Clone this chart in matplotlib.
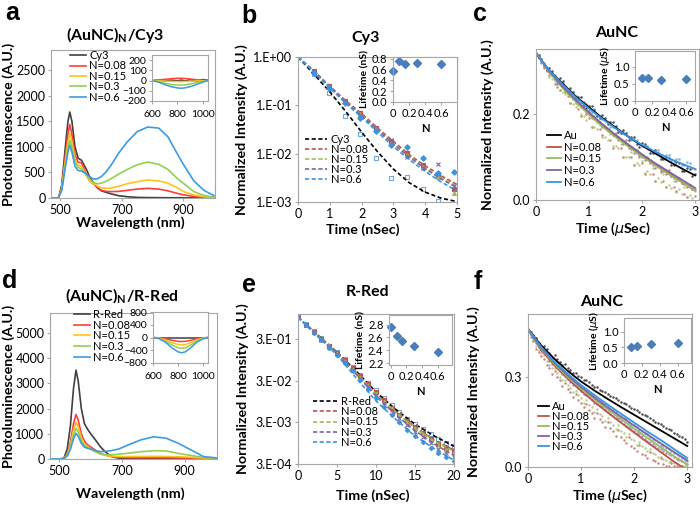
import numpy as np
import matplotlib
matplotlib.use("Agg")
import matplotlib.pyplot as plt
from matplotlib.ticker import FixedLocator, FormatStrFormatter, NullLocator

plt.rcParams["font.family"] = ["Lato", "DejaVu Sans"]
plt.rcParams["mathtext.fontset"] = "dejavusans"
plt.rcParams["mathtext.rm"] = "Lato"
plt.rcParams["mathtext.it"] = "Lato:italic"
plt.rcParams["mathtext.bf"] = "Lato:bold"

W, H = 700, 507

# ---------------- data ----------------
series_n = ["N=0.08", "N=0.15", "N=0.3", "N=0.6"]

# (a) emission spectra, (AuNC)N / Cy3
wl_a = [470, 494, 505, 515, 525, 531, 538, 548, 558, 569, 578, 585, 595, 606, 614,
        622, 634, 650, 666, 690, 718, 750, 784, 820, 850, 880, 902, 935, 967, 1000]
pl_a_cy3 = [0, 0, 250, 900, 1500, 1685, 1500, 1000, 780, 740, 640, 560, 420, 320, 250,
            190, 140, 110, 80, 45, 25, 12, 8, 6, 5, 5, 3, 2, 1, 0]
pl_a_008 = [0, 0, 200, 750, 1250, 1440, 1250, 850, 700, 690, 560, 450, 340, 280, 255,
            200, 150, 130, 125, 130, 150, 175, 189, 175, 140, 91, 60, 30, 10, 3]
pl_a_015 = [0, 0, 180, 660, 1100, 1263, 1100, 760, 640, 620, 520, 430, 340, 280, 262,
            230, 200, 190, 195, 230, 280, 320, 352, 335, 290, 200, 123, 60, 25, 8]
pl_a_03 = [0, 0, 160, 600, 980, 1133, 990, 700, 600, 570, 500, 470, 380, 310, 290,
           280, 290, 330, 380, 470, 560, 650, 705, 660, 560, 385, 280, 123, 50, 15]
pl_a_06 = [0, 0, 150, 540, 900, 1035, 900, 620, 540, 530, 500, 470, 420, 380, 370,
           380, 420, 520, 650, 880, 1100, 1300, 1390, 1370, 1200, 870, 640, 330, 150, 45]

# insets of (a) and (d): difference spectra
wl_in = [600, 650, 700, 750, 800, 830, 860, 900, 950, 1000, 1040]
diff_a_ref = [0, 2, -3, 4, -2, 5, -4, 8, -6, 10, 4]
diff_a_008 = [0, 5, 12, 18, 22, 22, 20, 15, 8, 3, 0]
diff_a_015 = [0, -2, -5, -8, -10, -10, -9, -7, -4, -2, 0]
diff_a_03 = [0, -10, -25, -38, -45, -45, -42, -33, -20, -8, 0]
diff_a_06 = [0, -15, -40, -60, -72, -75, -72, -60, -38, -15, 0]

# (d) emission spectra, (AuNC)N / R-Red
wl_d = [470, 505, 515, 525, 535, 545, 553, 560, 570, 580, 590, 600, 615, 630, 645,
        665, 690, 720, 760, 800, 840, 880, 920, 960, 1005]
pl_d_rred = [0, 0, 50, 400, 1300, 2800, 3530, 3100, 2000, 1400, 1180, 1000, 760, 500, 300,
             100, 30, 10, 5, 5, 5, 3, 2, 1, 0]
pl_d_008 = [0, 0, 30, 200, 650, 1400, 1770, 1550, 1000, 700, 560, 480, 350, 230, 160,
            100, 70, 55, 50, 50, 50, 45, 35, 20, 10]
pl_d_015 = [0, 0, 25, 170, 540, 1150, 1450, 1280, 830, 600, 480, 410, 300, 200, 150,
            110, 95, 95, 100, 105, 100, 90, 70, 40, 20]
pl_d_03 = [0, 0, 20, 140, 450, 950, 1220, 1080, 720, 520, 440, 380, 290, 200, 165,
           170, 190, 230, 290, 330, 320, 220, 140, 60, 30]
pl_d_06 = [0, 0, 18, 120, 380, 800, 1020, 900, 620, 470, 430, 400, 330, 295, 300,
           330, 400, 560, 760, 880, 830, 620, 360, 95, 40]
diff_d_ref = [0, 0, 0, 0, 0, 0, 0, 0, 0, 0, 0]
diff_d_008 = [0, -10, -40, -85, -120, -128, -120, -90, -40, -10, 0]
diff_d_015 = [0, -20, -75, -160, -220, -235, -220, -165, -75, -20, 0]
diff_d_03 = [0, -30, -110, -230, -320, -340, -320, -240, -110, -30, 0]
diff_d_06 = [0, -40, -150, -320, -450, -480, -450, -330, -150, -40, 0]

# (b) Cy3 decay, data points and fits
t_b = [0, 0.49, 0.98, 1.47, 1.96, 2.45, 2.94, 3.43, 3.92, 4.41, 4.9]
pts_b_cy3 = [1.0, 0.45, 0.18, 0.06, 0.025, 0.008, 0.0032, 0.0033, 0.0019, 0.00105, np.nan]
pts_b_008 = [1.0, 0.52, 0.25, 0.125, 0.068, 0.034, 0.018, 0.0105, 0.0058, 0.0035, 0.0019]
pts_b_015 = [1.0, 0.50, 0.24, 0.12, 0.065, 0.032, 0.017, 0.0095, 0.0052, 0.0033, 0.0015]
pts_b_03 = [1.0, 0.50, 0.24, 0.118, 0.063, 0.031, 0.019, 0.0085, 0.005, 0.006, 0.0021]
pts_b_06 = [1.0, 0.47, 0.23, 0.11, 0.056, 0.029, 0.015, 0.014, 0.008, 0.004, 0.0042]
tfit_b = [0, 0.5, 1, 1.5, 2, 2.5, 3, 3.5, 4, 4.5, 5]
fit_b_cy3 = [1.0, 0.44, 0.19, 0.075, 0.028, 0.011, 0.0048, 0.0025, 0.0016, 0.0012, 0.00102]
fit_b_008 = [1.0, 0.52, 0.25, 0.125, 0.068, 0.034, 0.018, 0.0095, 0.0056, 0.0035, 0.0023]
fit_b_015 = [1.0, 0.50, 0.245, 0.12, 0.064, 0.032, 0.016, 0.0088, 0.005, 0.0032, 0.0021]
fit_b_03 = [1.0, 0.50, 0.24, 0.118, 0.062, 0.031, 0.0158, 0.0085, 0.0049, 0.003, 0.002]
fit_b_06 = [1.0, 0.48, 0.23, 0.11, 0.057, 0.028, 0.014, 0.0075, 0.0043, 0.0026, 0.0017]
n_b = [0, 0.08, 0.15, 0.3, 0.6]
life_b = [0.58, 0.75, 0.70, 0.72, 0.71]

# (e) R-Red decay
t_e = [0, 1, 2, 3, 4, 5, 6, 7, 8, 9, 10, 11, 12, 13, 14, 15, 16, 17, 18, 19, 20]
pts_e_rred = [1.0, 0.68, 0.46, 0.31, 0.21, 0.145, 0.097, 0.064, 0.042, 0.027, 0.0175,
              0.0115, 0.0078, 0.0053, 0.0037, 0.0027, 0.0021, 0.0016, 0.0012, 0.00095, 0.0008]
pts_e_008 = [1.0, 0.67, 0.45, 0.30, 0.20, 0.138, 0.092, 0.060, 0.039, 0.025, 0.016,
             0.0102, 0.0068, 0.0046, 0.0032, 0.0023, 0.0017, 0.0012, 0.0009, 0.00072, 0.0006]
pts_e_015 = [1.0, 0.67, 0.45, 0.30, 0.20, 0.136, 0.090, 0.058, 0.037, 0.024, 0.0152,
             0.0098, 0.0065, 0.0044, 0.0030, 0.0022, 0.0016, 0.00115, 0.00088, 0.0007, 0.00058]
pts_e_03 = [1.0, 0.66, 0.44, 0.29, 0.195, 0.130, 0.085, 0.055, 0.035, 0.022, 0.0138,
            0.0088, 0.0058, 0.0038, 0.0026, 0.0018, 0.0013, 0.00095, 0.0007, 0.00055, 0.00045]
pts_e_06 = [1.0, 0.66, 0.43, 0.28, 0.185, 0.122, 0.079, 0.050, 0.031, 0.019, 0.0115,
            0.0072, 0.0046, 0.0030, 0.0020, 0.0014, 0.0010, 0.00072, 0.00055, 0.00043, 0.00035]
tfit_e = [0, 2.5, 5, 7.5, 10, 12.5, 15, 17.5, 20]
fit_e_rred = [1.0, 0.38, 0.145, 0.050, 0.016, 0.0062, 0.0027, 0.0014, 0.0008]
fit_e_008 = [1.0, 0.37, 0.140, 0.046, 0.0145, 0.0055, 0.0023, 0.0011, 0.00065]
fit_e_015 = [1.0, 0.37, 0.138, 0.045, 0.014, 0.0052, 0.0022, 0.00105, 0.0006]
fit_e_03 = [1.0, 0.36, 0.133, 0.042, 0.0128, 0.0046, 0.0019, 0.0009, 0.00048]
fit_e_06 = [1.0, 0.35, 0.125, 0.034, 0.0098, 0.0036, 0.0014, 0.0007, 0.00037]
n_e = [0, 0.08, 0.15, 0.3, 0.6]
life_e = [2.77, 2.62, 2.54, 2.46, 2.37]

# (c) AuNC decay with Cy3: raw counts (two interleaved time grids) and fits
t_sc = [0.0, 0.1, 0.2, 0.3, 0.4, 0.5, 0.6, 0.7, 0.8, 0.9, 1.0, 1.1, 1.2, 1.3, 1.4, 1.5,
        1.6, 1.7, 1.8, 1.9, 2.0, 2.1, 2.2, 2.3, 2.4, 2.5, 2.6, 2.7, 2.8, 2.9, 3.0]
t_sc2 = [0.05, 0.15, 0.25, 0.35, 0.45, 0.55, 0.65, 0.75, 0.85, 0.95, 1.05, 1.15, 1.25,
         1.35, 1.45, 1.55, 1.65, 1.75, 1.85, 1.95, 2.05, 2.15, 2.25, 2.35, 2.45, 2.55,
         2.65, 2.75, 2.85, 2.95]
sc_c_au = [0.338, 0.326, 0.301, 0.299, 0.276, 0.275, 0.252, 0.251, 0.238, 0.221, 0.219,
           0.209, 0.191, 0.190, 0.181, 0.172, 0.155, 0.156, 0.146, 0.130, 0.131, 0.122,
           0.108, 0.110, 0.094, 0.097, 0.080, 0.085, 0.068, 0.072, 0.060]
sc_c_008 = [0.335, 0.325, 0.298, 0.290, 0.262, 0.268, 0.240, 0.236, 0.210, 0.220, 0.190,
            0.195, 0.165, 0.170, 0.140, 0.155, 0.120, 0.140, 0.100, 0.115, 0.085, 0.100,
            0.060, 0.080, 0.045, 0.070, 0.030, 0.050, 0.015, 0.035, 0.010]
sc_c_015 = [0.336, 0.318, 0.305, 0.280, 0.272, 0.250, 0.245, 0.222, 0.220, 0.195, 0.198,
            0.170, 0.175, 0.145, 0.152, 0.125, 0.130, 0.100, 0.112, 0.085, 0.090, 0.068,
            0.075, 0.050, 0.060, 0.035, 0.045, 0.025, 0.030, 0.012, 0.020]
sc_c_03 = [0.340, 0.320, 0.302, 0.290, 0.270, 0.262, 0.248, 0.235, 0.225, 0.210, 0.203,
           0.188, 0.180, 0.168, 0.158, 0.148, 0.138, 0.130, 0.118, 0.110, 0.100, 0.094,
           0.082, 0.078, 0.068, 0.062, 0.052, 0.048, 0.038, 0.035, 0.025]
sc_c_06 = [0.340, 0.326, 0.305, 0.297, 0.277, 0.272, 0.252, 0.250, 0.232, 0.228, 0.208,
           0.210, 0.190, 0.190, 0.170, 0.172, 0.155, 0.155, 0.138, 0.140, 0.125, 0.126,
           0.110, 0.115, 0.097, 0.104, 0.090, 0.095, 0.080, 0.085, 0.072]
sc2_c_au = [0.335, 0.310, 0.306, 0.280, 0.283, 0.258, 0.260, 0.236, 0.238, 0.214, 0.218,
            0.195, 0.198, 0.176, 0.180, 0.157, 0.162, 0.140, 0.145, 0.124, 0.130, 0.108,
            0.116, 0.095, 0.100, 0.082, 0.088, 0.068, 0.074, 0.055]
sc2_c_008 = [0.328, 0.305, 0.290, 0.270, 0.255, 0.250, 0.225, 0.225, 0.195, 0.200, 0.170,
             0.180, 0.150, 0.160, 0.120, 0.140, 0.100, 0.120, 0.080, 0.100, 0.060, 0.085,
             0.045, 0.065, 0.030, 0.055, 0.020, 0.040, 0.008, 0.025]
sc2_c_015 = [0.330, 0.310, 0.285, 0.275, 0.255, 0.245, 0.225, 0.215, 0.200, 0.185, 0.170,
             0.165, 0.145, 0.140, 0.125, 0.120, 0.100, 0.100, 0.080, 0.080, 0.062, 0.060,
             0.045, 0.042, 0.030, 0.028, 0.018, 0.015, 0.008, 0.005]
sc2_c_03 = [0.332, 0.312, 0.297, 0.282, 0.268, 0.255, 0.240, 0.230, 0.215, 0.205, 0.190,
            0.185, 0.170, 0.165, 0.150, 0.145, 0.130, 0.125, 0.110, 0.105, 0.092, 0.088,
            0.075, 0.070, 0.060, 0.055, 0.045, 0.040, 0.030, 0.025]
sc2_c_06 = [0.333, 0.318, 0.300, 0.290, 0.272, 0.265, 0.245, 0.242, 0.225, 0.222, 0.205,
            0.200, 0.188, 0.180, 0.170, 0.162, 0.155, 0.145, 0.140, 0.130, 0.128, 0.118,
            0.115, 0.105, 0.104, 0.092, 0.095, 0.082, 0.088, 0.075]
t_fit_c = [0, 0.25, 0.5, 0.75, 1.0, 1.25, 1.5, 1.75, 2.0, 2.25, 2.5, 2.75, 3.0]
fit_c_au = [0.34, 0.30, 0.27, 0.24, 0.215, 0.19, 0.168, 0.146, 0.126, 0.108, 0.09, 0.073, 0.057]
fit_c_008 = [0.34, 0.298, 0.262, 0.23, 0.20, 0.173, 0.148, 0.125, 0.103, 0.082, 0.062, 0.042, 0.022]
fit_c_015 = [0.34, 0.297, 0.26, 0.228, 0.198, 0.171, 0.146, 0.123, 0.101, 0.08, 0.06, 0.041, 0.022]
fit_c_03 = [0.34, 0.299, 0.263, 0.232, 0.203, 0.176, 0.151, 0.128, 0.106, 0.085, 0.066, 0.047, 0.028]
fit_c_06 = [0.34, 0.30, 0.268, 0.238, 0.212, 0.188, 0.166, 0.146, 0.128, 0.112, 0.097, 0.084, 0.072]
n_c = [0.08, 0.15, 0.3, 0.6]
life_c = [0.66, 0.66, 0.62, 0.65]

# (f) AuNC decay with R-Red
sc_f_au = [0.455, 0.440, 0.415, 0.405, 0.380, 0.375, 0.350, 0.345, 0.325, 0.315, 0.300,
           0.290, 0.275, 0.268, 0.255, 0.245, 0.235, 0.225, 0.215, 0.205, 0.195, 0.185,
           0.172, 0.165, 0.150, 0.145, 0.130, 0.122, 0.110, 0.100, 0.085]
sc_f_008 = [0.450, 0.420, 0.385, 0.360, 0.330, 0.320, 0.290, 0.280, 0.250, 0.245, 0.215,
            0.210, 0.180, 0.180, 0.150, 0.150, 0.120, 0.125, 0.090, 0.100, 0.065, 0.075,
            0.040, 0.050, 0.020, 0.030, 0.005, 0.015, 0.002, 0.005, 0.001]
sc_f_015 = [0.450, 0.425, 0.390, 0.375, 0.340, 0.330, 0.300, 0.290, 0.265, 0.255, 0.230,
            0.225, 0.200, 0.195, 0.170, 0.165, 0.140, 0.140, 0.115, 0.110, 0.090, 0.085,
            0.065, 0.060, 0.045, 0.035, 0.025, 0.020, 0.010, 0.005, 0.001]
sc_f_03 = [0.455, 0.430, 0.400, 0.385, 0.355, 0.345, 0.320, 0.305, 0.285, 0.270, 0.255,
           0.240, 0.225, 0.210, 0.200, 0.185, 0.170, 0.160, 0.145, 0.135, 0.120, 0.110,
           0.095, 0.085, 0.070, 0.060, 0.048, 0.040, 0.028, 0.020, 0.010]
sc_f_06 = [0.460, 0.435, 0.405, 0.390, 0.360, 0.350, 0.325, 0.315, 0.295, 0.280, 0.265,
           0.252, 0.240, 0.225, 0.215, 0.200, 0.190, 0.175, 0.165, 0.150, 0.140, 0.125,
           0.115, 0.100, 0.090, 0.075, 0.065, 0.052, 0.042, 0.030, 0.020]
sc2_f_au = [0.450, 0.430, 0.400, 0.395, 0.365, 0.360, 0.340, 0.330, 0.315, 0.305, 0.290,
            0.282, 0.268, 0.258, 0.250, 0.238, 0.230, 0.218, 0.210, 0.198, 0.190, 0.178,
            0.170, 0.158, 0.148, 0.138, 0.128, 0.115, 0.105, 0.092]
sc2_f_008 = [0.435, 0.395, 0.370, 0.340, 0.310, 0.300, 0.270, 0.260, 0.235, 0.225, 0.200,
             0.190, 0.165, 0.160, 0.135, 0.130, 0.105, 0.100, 0.080, 0.070, 0.055, 0.045,
             0.030, 0.025, 0.012, 0.010, 0.003, 0.002, 0.001, 0.001]
sc2_f_015 = [0.440, 0.405, 0.380, 0.355, 0.330, 0.315, 0.290, 0.275, 0.250, 0.240, 0.215,
             0.208, 0.185, 0.178, 0.155, 0.150, 0.128, 0.120, 0.100, 0.095, 0.075, 0.070,
             0.055, 0.048, 0.035, 0.028, 0.018, 0.012, 0.005, 0.002]
sc2_f_03 = [0.445, 0.415, 0.390, 0.370, 0.345, 0.330, 0.310, 0.295, 0.275, 0.262, 0.245,
            0.232, 0.215, 0.205, 0.190, 0.178, 0.162, 0.152, 0.138, 0.128, 0.112, 0.102,
            0.088, 0.078, 0.065, 0.055, 0.044, 0.035, 0.025, 0.015]
sc2_f_06 = [0.448, 0.420, 0.395, 0.375, 0.352, 0.338, 0.318, 0.305, 0.288, 0.272, 0.260,
            0.245, 0.235, 0.220, 0.210, 0.195, 0.185, 0.170, 0.160, 0.145, 0.135, 0.120,
            0.110, 0.095, 0.085, 0.070, 0.060, 0.048, 0.038, 0.025]
fit_f_au = [0.46, 0.405, 0.36, 0.32, 0.285, 0.255, 0.227, 0.20, 0.174, 0.148, 0.122, 0.096, 0.07]
fit_f_008 = [0.46, 0.39, 0.338, 0.294, 0.254, 0.217, 0.182, 0.148, 0.115, 0.082, 0.05, 0.018, -0.01]
fit_f_015 = [0.46, 0.395, 0.343, 0.30, 0.262, 0.226, 0.192, 0.16, 0.128, 0.097, 0.066, 0.036, 0.008]
fit_f_03 = [0.46, 0.398, 0.347, 0.305, 0.267, 0.232, 0.199, 0.168, 0.138, 0.108, 0.079, 0.05, 0.022]
fit_f_06 = [0.46, 0.40, 0.35, 0.31, 0.273, 0.24, 0.208, 0.178, 0.148, 0.118, 0.09, 0.06, 0.03]
n_f = [0.08, 0.15, 0.3, 0.6]
life_f = [0.53, 0.54, 0.60, 0.63]

# ---------------- style ----------------
spec_colors = ["#404040", "#ff3c3c", "#ffc21a", "#92d050", "#3c9be2"]
fit_colors = ["#000000", "#c0504d", "#9bbb59", "#8064a2", "#3a93e0"]
pt_markers = ["s", "s", "^", "x", "D"]
frame = "#a6a6a6"
TICK = 9
INTICK = 8
LAB = 10.3
LEG = 8

fig = plt.figure(figsize=(W / 100, H / 100), dpi=100)


def px_axes(x0, y0, x1, y1):
    return fig.add_axes([x0 / W, 1 - y1 / H, (x1 - x0) / W, (y1 - y0) / H])


def ft(x, y, s, **kw):
    kw.setdefault("ha", "center")
    kw.setdefault("va", "center")
    return fig.text(x / W, 1 - y / H, s, **kw)


def style(ax, size=TICK):
    for sp in ax.spines.values():
        sp.set_color(frame)
        sp.set_linewidth(0.8)
    ax.tick_params(labelsize=size, color=frame, length=2.5, width=0.8, pad=1.5)
    ax.xaxis.set_minor_locator(NullLocator())
    ax.yaxis.set_minor_locator(NullLocator())


def legend(ax, x, top, hl, ls=0.0):
    ax.legend(loc="upper left", bbox_to_anchor=(x / W, 1 - top / H),
              bbox_transform=fig.transFigure, frameon=False, fontsize=LEG,
              handlelength=hl, handletextpad=0.3, labelspacing=ls,
              borderpad=0, borderaxespad=0)


def inset_life(x0, y0, x1, y1, n, life, xlim, ylim, yticks, ylabel):
    ins = px_axes(x0, y0, x1, y1)
    ins.plot(n, life, "D", color="#4a7ebb", ms=4.5, clip_on=False)
    ins.set_xlim(*xlim)
    ins.set_ylim(*ylim)
    ins.set_xticks([0, 0.2, 0.4, 0.6])
    ins.set_xticklabels(["0", "0.2", "0.4", "0.6"])
    ins.set_yticks(yticks)
    ins.yaxis.set_major_formatter(FormatStrFormatter("%.1f"))
    style(ins, INTICK)
    ins.set_ylabel(ylabel, fontsize=7.5, fontweight="bold", labelpad=1.5)
    ins.set_xlabel("N", fontsize=8, fontweight="bold", labelpad=3)
    return ins


def spectra_panel(box, wl, curves, labels, ylim, yticks, inbox, diffs, in_ylim, in_yticks):
    ax = px_axes(*box)
    for y, c, lab in zip(curves, spec_colors, labels):
        ax.plot(wl, y, color=c, lw=1.2, label=lab)
    ax.set_xlim(470, 1003)
    ax.set_ylim(*ylim)
    ax.set_xticks([500, 700, 900])
    ax.set_yticks(yticks)
    style(ax)
    ins = px_axes(*inbox)
    for y, c in zip(diffs, spec_colors):
        ins.plot(wl_in, y, color=c, lw=1.1)
    ins.set_xlim(600, 1040)
    ins.set_ylim(*in_ylim)
    ins.set_xticks([600, 800, 1000])
    ins.set_yticks(in_yticks)
    style(ins, 7.5)
    ins.tick_params(axis="x", pad=4)
    return ax


# ---------------- (a) ----------------
ax_a = spectra_panel((51, 50, 215, 198), wl_a,
                     [pl_a_cy3, pl_a_008, pl_a_015, pl_a_03, pl_a_06],
                     ["Cy3"] + series_n, (0, 2900), [0, 500, 1000, 1500, 2000, 2500],
                     (152, 55, 208, 101),
                     [diff_a_ref, diff_a_008, diff_a_015, diff_a_03, diff_a_06],
                     (-200, 250), [-200, -100, 0, 100, 200])
legend(ax_a, 70, 50, 1.45, ls=-0.05)

# ---------------- (d) ----------------
ax_d = spectra_panel((50, 313, 217, 459), wl_d,
                     [pl_d_rred, pl_d_008, pl_d_015, pl_d_03, pl_d_06],
                     ["R-Red"] + series_n, (0, 5800), [0, 1000, 2000, 3000, 4000, 5000],
                     (153, 312, 208, 363),
                     [diff_d_ref, diff_d_008, diff_d_015, diff_d_03, diff_d_06],
                     (-800, 800), [-800, -400, 0, 400, 800])
legend(ax_d, 74, 309, 1.4, ls=-0.03)


# ---------------- (b) / (e) ----------------
def decay_log(box, t_pts, pts, t_fit, fits, labels, xlim, xticks, ylim, yticks, ylabels, ms):
    ax = px_axes(*box)
    for k, (p, f, c, lab) in enumerate(zip(pts, fits, fit_colors, labels)):
        if k == 0:
            ax.plot(t_pts, p, "s", mfc="none", mec="#6fa8dc", ms=ms + 0.7, mew=0.8)
        else:
            ax.plot(t_pts, p, pt_markers[k], color=c, ms=ms, mew=0.8)
        ax.plot(t_fit, f, color=c, lw=1.2, ls=(0, (2.5, 1.5)), label=lab)
    ax.set_yscale("log")
    ax.set_xlim(*xlim)
    ax.set_ylim(*ylim)
    ax.set_xticks(xticks)
    ax.yaxis.set_major_locator(FixedLocator(yticks))
    ax.set_yticklabels(ylabels)
    style(ax)
    return ax


ax_b = decay_log((298, 57, 457, 202), t_b,
                 [pts_b_cy3, pts_b_008, pts_b_015, pts_b_03, pts_b_06], tfit_b,
                 [fit_b_cy3, fit_b_008, fit_b_015, fit_b_03, fit_b_06],
                 ["Cy3"] + series_n, (0, 5), [0, 1, 2, 3, 4, 5], (1e-3, 1.0),
                 [1, 0.1, 0.01, 0.001], ["1.E+00", "1.E-01", "1.E-02", "1.E-03"], 2.8)
legend(ax_b, 305, 134, 2.0, ls=-0.1)
inset_life(393, 57, 457, 102, n_b, life_b, (0, 0.8), (0, 0.83),
           [0, 0.2, 0.4, 0.6, 0.8], "Lifetime (nS)")

ax_e = decay_log((298, 314, 454, 464), t_e,
                 [pts_e_rred, pts_e_008, pts_e_015, pts_e_03, pts_e_06], tfit_e,
                 [fit_e_rred, fit_e_008, fit_e_015, fit_e_03, fit_e_06],
                 ["R-Red"] + series_n, (0, 20), [0, 5, 10, 15, 20], (3e-4, 1.2),
                 [0.3, 0.03, 0.003, 0.0003], ["3.E-01", "3.E-02", "3.E-03", "3.E-04"], 2.2)
legend(ax_e, 313, 396, 2.2, ls=-0.07)
inset_life(389, 315, 452, 365, n_e, life_e, (-0.02, 0.78), (2.17, 2.95),
           [2.2, 2.4, 2.6, 2.8], "Lifetime (nS)")


# ---------------- (c) / (f) ----------------
def decay_lin(box, scat, scat2, fits, xmax, ylim, yticks):
    ax = px_axes(*box)
    for s, s2, c in zip(scat, scat2, fit_colors):
        ax.plot(t_sc, s, "o", color=c, ms=1.8, alpha=0.7, mew=0)
        ax.plot(t_sc2, s2, "o", color=c, ms=1.8, alpha=0.7, mew=0)
    for f, c, lab in zip(fits, fit_colors, ["Au"] + series_n):
        ax.plot(t_fit_c, f, color=c, lw=1.3, label=lab)
    ax.set_xlim(0, xmax)
    ax.set_ylim(*ylim)
    ax.set_xticks([0, 1, 2, 3])
    ax.set_yticks(yticks)
    ax.yaxis.set_major_formatter(FormatStrFormatter("%.1f"))
    style(ax)
    return ax


ax_c = decay_lin((536, 49, 699, 200),
                 [sc_c_au, sc_c_008, sc_c_015, sc_c_03, sc_c_06],
                 [sc2_c_au, sc2_c_008, sc2_c_015, sc2_c_03, sc2_c_06],
                 [fit_c_au, fit_c_008, fit_c_015, fit_c_03, fit_c_06], 3.075, (0, 0.35), [0, 0.2])
legend(ax_c, 547, 130, 1.25, ls=0.06)
inset_life(635, 51, 695, 101, n_c, life_c, (0, 0.7), (0, 1.45),
           [0, 0.5, 1.0], r"Lifetime ($\mu$S)")

ax_f = decay_lin((528, 314, 692, 467),
                 [sc_f_au, sc_f_008, sc_f_015, sc_f_03, sc_f_06],
                 [sc2_f_au, sc2_f_008, sc2_f_015, sc2_f_03, sc2_f_06],
                 [fit_f_au, fit_f_008, fit_f_015, fit_f_03, fit_f_06], 3.09, (0, 0.51), [0, 0.3])
legend(ax_f, 538, 401, 1.0, ls=-0.1)
inset_life(624, 318, 691, 363, n_f, life_f, (0, 0.75), (0, 1.45),
           [0, 0.5, 1.0], r"Lifetime ($\mu$S)")

# ---------------- text ----------------
for x, y, s in [(12, 13, "a"), (249, 16, "b"), (480, 14, "c"),
                (10, 281, "d"), (249, 285, "e"), (478, 282, "f")]:
    ft(x, y, s, fontsize=18, fontweight="bold", family="Liberation Sans")

tkw = dict(fontsize=11.5, fontweight="bold")
ft(115, 35, r"(AuNC)$_\mathbf{N}$/Cy3", math_fontfamily="custom", **tkw)
ft(366, 38, "Cy3", **tkw)
ft(617, 33, "AuNC", **tkw)
ft(122, 296, r"(AuNC)$_\mathbf{N}$/R-Red", math_fontfamily="custom", **tkw)
ft(368, 292, "R-Red", **tkw)
ft(602, 302, "AuNC", **tkw)

lkw = dict(fontsize=LAB, fontweight="bold")
ft(9, 124, "Photoluminescence (A.U.)", rotation=90, **lkw)
ft(9, 386, "Photoluminescence (A.U.)", rotation=90, **lkw)
ft(242, 130, "Normalized Intensity (A.U.)", rotation=90, **lkw)
ft(243, 389, "Normalized Intensity (A.U.)", rotation=90, **lkw)
ft(488, 125, "Normalized Intensity (A.U.)", rotation=90, **lkw)
ft(474, 392, "Normalized Intensity (A.U.)", rotation=90, **lkw)
ft(130, 223, "Wavelength (nm)", **lkw)
ft(130, 494, "Wavelength (nm)", **lkw)
ft(363, 230, "Time (nSec)", **lkw)
ft(373, 496, "Time (nSec)", **lkw)
ft(613, 229, r"Time ($\mu$Sec)", **lkw)
ft(610, 496, r"Time ($\mu$Sec)", **lkw)

fig.savefig("out.png", dpi=100)
